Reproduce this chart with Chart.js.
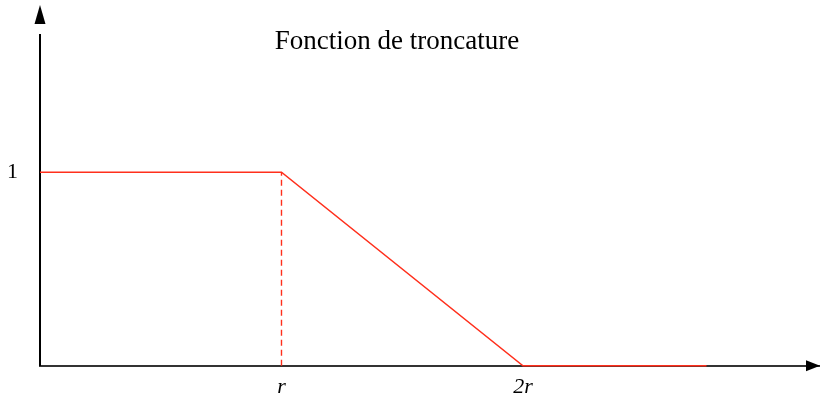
<!DOCTYPE html>
<html>
<head>
<meta charset="utf-8">
<script src="https://cdn.jsdelivr.net/npm/chart.js@4/dist/chart.umd.min.js"></script>
<style>
  html, body { margin: 0; padding: 0; background: #ffffff; }
  #wrap { position: relative; width: 820px; height: 401px; }
</style>
</head>
<body>
<div id="wrap"><canvas id="c"></canvas></div>
<script>
// ---- data ----
const TITLE = 'Fonction de troncature';
const curveX = [0, 1, 2, 2.76];
const curveY = [1, 1, 0, 0];
const dashX = [1, 1];
const dashY = [0, 1];
const xTickValues = [1, 2];
const xTickLabels = ['r', '2r'];
const yTickValues = [1];
const yTickLabels = ['1'];
const X_MAX = 3.23;
const Y_MAX = 1.7075;

const RED = '#ff2f1c';
const SERIF = "'Liberation Serif', 'Times New Roman', serif";

const arrowsAndTitle = {
  id: 'arrowsAndTitle',
  afterDraw(chart) {
    const ctx = chart.ctx;
    const x0 = chart.scales.x.getPixelForValue(0);
    const y0 = chart.scales.y.getPixelForValue(0);
    ctx.save();
    ctx.fillStyle = '#000';
    // y arrow
    ctx.beginPath();
    ctx.moveTo(x0, 5);
    ctx.lineTo(x0 - 5.5, 24);
    ctx.lineTo(x0 + 5.5, 24);
    ctx.closePath();
    ctx.fill();
    // x arrow
    ctx.beginPath();
    ctx.moveTo(820, y0);
    ctx.lineTo(806, y0 - 5.5);
    ctx.lineTo(806, y0 + 5.5);
    ctx.closePath();
    ctx.fill();
    // title
    ctx.font = '27px ' + SERIF;
    ctx.textAlign = 'center';
    ctx.textBaseline = 'alphabetic';
    ctx.fillText(TITLE, 397, 49);
    ctx.restore();
  }
};

new Chart(document.getElementById('c'), {
  type: 'line',
  data: {
    datasets: [
      {
        data: curveX.map((x, i) => ({ x: x, y: curveY[i] })),
        borderColor: RED,
        borderWidth: 1.5,
        pointRadius: 0,
        tension: 0,
        fill: false,
        clip: false
      },
      {
        data: dashX.map((x, i) => ({ x: x, y: dashY[i] })),
        borderColor: RED,
        borderWidth: 1.4,
        borderDash: [6, 4],
        pointRadius: 0,
        tension: 0,
        fill: false,
        clip: false
      }
    ]
  },
  options: {
    responsive: true,
    maintainAspectRatio: false,
    animation: false,
    devicePixelRatio: 1,
    layout: { padding: { left: 7, top: 5, right: 0, bottom: 0 } },
    plugins: {
      legend: { display: false },
      tooltip: { enabled: false },
      title: { display: false }
    },
    scales: {
      x: {
        type: 'linear',
        min: 0,
        max: X_MAX,
        z: 1,
        grid: { display: false, drawTicks: false },
        border: { display: true, color: 'rgba(0,0,0,0.8)', width: 2 },
        afterBuildTicks: (axis) => { axis.ticks = xTickValues.map(v => ({ value: v })); },
        afterFit: (axis) => { axis.height = 34; },
        ticks: {
          autoSkip: false,
          maxRotation: 0,
          padding: 8,
          color: '#000',
          font: { family: SERIF, size: 22, style: 'italic' },
          callback: (v, i) => xTickLabels[i]
        }
      },
      y: {
        type: 'linear',
        min: 0,
        max: Y_MAX,
        z: 1,
        grid: { display: false, drawTicks: false },
        border: { display: true, color: '#000', width: 2 },
        afterBuildTicks: (axis) => { axis.ticks = yTickValues.map(v => ({ value: v })); },
        afterFit: (axis) => { axis.width = 33; },
        ticks: {
          autoSkip: false,
          padding: 22,
          color: '#000',
          font: { family: SERIF, size: 22 },
          callback: (v, i) => yTickLabels[i]
        }
      }
    }
  },
  plugins: [arrowsAndTitle]
});
</script>
</body>
</html>
